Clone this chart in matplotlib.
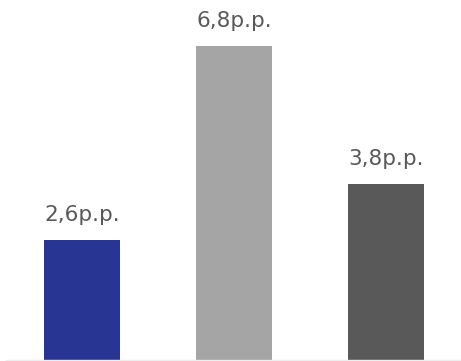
import matplotlib.pyplot as plt

# valores em pontos percentuais
categories = ["A", "B", "C"]
values = [2.6, 6.8, 3.8]
labels = ["2,6p.p.", "6,8p.p.", "3,8p.p."]
colors = ["#283593", "#a5a5a5", "#595959"]

fig = plt.figure(figsize=(4.61, 3.61), dpi=100)
ax = fig.add_axes([6 / 461, 1 / 361, 456 / 461, 360 / 361])

x = range(len(values))
bars = ax.bar(x, values, width=0.5, color=colors)
ax.set_xlim(-0.5, 2.5)
ax.set_ylim(0, 360 / 46.2)

for b, lab in zip(bars, labels):
    ax.annotate(lab, (b.get_x() + b.get_width() / 2, b.get_height()),
                xytext=(0, 13.7), textcoords="offset points",
                ha="center", va="baseline", fontsize=15.5,
                color="#595959", family="DejaVu Sans")

for s in ["top", "right", "left"]:
    ax.spines[s].set_visible(False)
ax.spines["bottom"].set_color("#eeeeee")
ax.spines["bottom"].set_linewidth(1)
ax.set_xticks([])
ax.set_yticks([])

fig.savefig("out.png", dpi=100)
